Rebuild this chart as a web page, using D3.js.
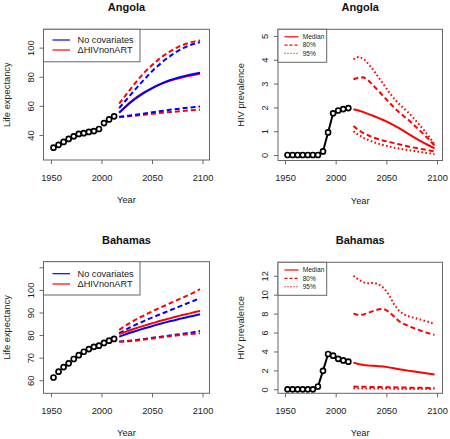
<!DOCTYPE html>
<html>
<head>
<meta charset="utf-8">
<script src="https://cdn.jsdelivr.net/npm/d3@7/dist/d3.min.js"></script>
<style>
  html, body { margin: 0; padding: 0; background: #fff; }
  svg { display: block; font-family: "Liberation Sans", Arial, sans-serif; }
</style>
</head>
<body>
<svg id="chart" width="450" height="439"></svg>
<script>
// ---------- DATA ----------
const obsYears = [1952.5, 1957.5, 1962.5, 1967.5, 1972.5, 1977.5, 1982.5, 1987.5, 1992.5, 1997.5, 2002.5, 2007.5, 2012.5];
const projYears = [2017.5, 2022.5, 2027.5, 2032.5, 2037.5, 2042.5, 2047.5, 2052.5, 2057.5, 2062.5, 2067.5, 2072.5, 2077.5, 2082.5, 2087.5, 2092.5, 2097.5];

// Angola life expectancy
const angolaLEObs = [31.3, 33.2, 35.2, 37.3, 39.1, 40.7, 41.2, 42.1, 42.7, 44.1, 48.2, 50.7, 52.8];
const angolaLENoCovMedian = [55.5, 58.6, 61.6, 64.4, 66.9, 69.1, 71.1, 73.0, 74.8, 76.3, 77.6, 78.7, 79.7, 80.6, 81.4, 82.1, 82.7];
const angolaLENoCovUpper  = [58.5, 62.5, 66.5, 70.5, 74.5, 78.3, 82.0, 85.5, 88.5, 91.5, 94.0, 96.5, 98.5, 100.2, 101.7, 102.8, 103.8];
const angolaLENoCovLower  = [52.5, 52.9, 53.3, 53.8, 54.3, 54.8, 55.3, 55.8, 56.3, 56.8, 57.3, 57.7, 58.1, 58.5, 58.9, 59.2, 59.5];
const angolaLEHivMedian   = [55.2, 58.6, 61.9, 64.8, 67.3, 69.4, 71.2, 73.0, 74.6, 76.0, 77.2, 78.3, 79.2, 80.0, 80.7, 81.4, 82.0];
const angolaLEHivUpper    = [61.5, 66.0, 70.5, 75.0, 79.0, 83.0, 86.5, 89.5, 92.5, 95.0, 97.3, 99.3, 101.0, 102.3, 103.5, 104.3, 105.0];
const angolaLEHivLower    = [52.2, 52.5, 52.8, 53.1, 53.5, 53.9, 54.3, 54.7, 55.1, 55.4, 55.7, 56.0, 56.3, 56.6, 56.9, 57.1, 57.3];

// Angola HIV prevalence
const angolaHIVObs = [0, 0, 0, 0, 0, 0, 0, 0.15, 0.95, 1.75, 1.87, 1.93, 1.97];
const angolaHIVMedian = [1.92, 1.87, 1.80, 1.72, 1.64, 1.55, 1.46, 1.36, 1.25, 1.13, 1.00, 0.87, 0.74, 0.62, 0.50, 0.39, 0.28];
const angolaHIVUp80   = [3.18, 3.25, 3.27, 3.12, 2.90, 2.68, 2.45, 2.22, 2.00, 1.80, 1.62, 1.45, 1.25, 1.05, 0.85, 0.63, 0.40];
const angolaHIVLo80   = [1.22, 1.05, 0.92, 0.82, 0.73, 0.66, 0.60, 0.55, 0.50, 0.45, 0.40, 0.35, 0.31, 0.27, 0.23, 0.19, 0.15];
const angolaHIVUp95   = [4.02, 4.12, 4.05, 3.82, 3.55, 3.25, 2.95, 2.65, 2.38, 2.15, 1.95, 1.75, 1.52, 1.28, 1.02, 0.75, 0.45];
const angolaHIVLo95   = [1.00, 0.85, 0.72, 0.62, 0.54, 0.47, 0.41, 0.36, 0.31, 0.27, 0.23, 0.20, 0.17, 0.14, 0.10, 0.07, 0.03];

// Bahamas life expectancy
const bahamasLEObs = [61.2, 63.8, 65.8, 67.5, 69.4, 71.1, 72.6, 73.8, 74.8, 75.3, 76.5, 77.5, 78.3];
const bahamasLENoCovMedian = [79.3, 80.1, 80.9, 81.6, 82.3, 83.0, 83.6, 84.3, 84.9, 85.5, 86.1, 86.6, 87.2, 87.7, 88.2, 88.7, 89.2];
const bahamasLENoCovUpper  = [80.8, 82.0, 83.2, 84.3, 85.3, 86.3, 87.3, 88.2, 89.1, 90.0, 90.9, 91.8, 92.7, 93.6, 94.5, 95.4, 96.3];
const bahamasLENoCovLower  = [77.1, 77.3, 77.5, 77.7, 78.0, 78.3, 78.6, 78.9, 79.2, 79.5, 79.8, 80.1, 80.4, 80.7, 81.0, 81.4, 81.8];
const bahamasLEHivMedian   = [80.4, 81.2, 82.0, 82.8, 83.5, 84.2, 84.9, 85.5, 86.2, 86.8, 87.4, 88.0, 88.6, 89.1, 89.6, 90.2, 90.7];
const bahamasLEHivUpper    = [82.3, 83.8, 85.2, 86.5, 87.7, 88.8, 89.9, 91.0, 92.0, 93.0, 94.0, 95.0, 96.0, 97.0, 98.0, 99.1, 100.3];
const bahamasLEHivLower    = [77.0, 77.1, 77.3, 77.5, 77.7, 78.0, 78.3, 78.6, 78.9, 79.2, 79.5, 79.7, 80.0, 80.2, 80.4, 80.6, 80.8];

// Bahamas HIV prevalence
const bahamasHIVObs = [0, 0, 0, 0, 0, 0, 0.3, 1.95, 3.73, 3.55, 3.22, 3.05, 2.92];
const bahamasHIVMedian = [2.82, 2.68, 2.58, 2.52, 2.48, 2.45, 2.40, 2.32, 2.22, 2.12, 2.03, 1.95, 1.88, 1.80, 1.72, 1.64, 1.56];
const bahamasHIVUp80   = [8.00, 7.85, 7.90, 8.10, 8.30, 8.45, 8.50, 8.20, 7.70, 7.20, 6.90, 6.65, 6.45, 6.25, 6.05, 5.90, 5.75];
const bahamasHIVLo80   = [0.30, 0.28, 0.27, 0.26, 0.25, 0.24, 0.23, 0.22, 0.21, 0.20, 0.19, 0.18, 0.17, 0.16, 0.16, 0.15, 0.15];
const bahamasHIVUp95   = [12.0, 11.6, 11.3, 11.2, 11.25, 11.1, 10.7, 10.0, 9.0, 8.3, 7.9, 7.7, 7.55, 7.4, 7.25, 7.1, 6.9];
const bahamasHIVLo95   = [0.12, 0.11, 0.10, 0.10, 0.09, 0.09, 0.08, 0.08, 0.07, 0.07, 0.07, 0.06, 0.06, 0.06, 0.05, 0.05, 0.05];

// Axis ticks / labels
const xTicks = [1950, 2000, 2050, 2100];
const angolaLETicks = [40, 60, 80, 100];
const angolaHIVTicks = [0, 1, 2, 3, 4, 5];
const bahamasLETicks = [60, 70, 80, 90, 100, 110];
const bahamasLETickLabels = [60, 70, 80, 90, 100];
const bahamasHIVTicks = [0, 2, 4, 6, 8, 10, 12];
const leLegendLabels = ["No covariates", "\u0394HIVnonART"];
const hivLegendLabels = ["Median", "80%", "95%"];

// ---------- DRAWING ----------
const svg = d3.select("#chart");
const BLUE = "#0000ff", RED = "#ff0000", BOXC = "#666", TXT = "#222";
const DASH = "5,3", DOT = "1.6,2.4";

function panel(o) {
  const x = d3.scaleLinear().domain(o.xlim).range([o.left, o.right]);
  const y = d3.scaleLinear().domain(o.ylim).range([o.bottom, o.top]);
  const g = svg.append("g");

  g.append("text").attr("x", (o.left + o.right) / 2).attr("y", o.top - 18)
    .attr("text-anchor", "middle").attr("font-size", 11).attr("font-weight", "bold")
    .attr("fill", "#111").text(o.title);

  const xa = g.append("g").attr("transform", `translate(0,${o.bottom})`)
    .call(d3.axisBottom(x).tickValues(xTicks).tickSize(4).tickFormat(d3.format("d")));
  xa.select(".domain").remove();
  xa.selectAll("line").attr("stroke", BOXC);
  xa.selectAll("text").attr("y", 20.5).attr("dy", 0).attr("font-size", 9.3).attr("fill", TXT);
  xa.attr("font-family", null);

  const ya = g.append("g").attr("transform", `translate(${o.left},0)`)
    .call(d3.axisLeft(y).tickValues(o.yTicks).tickSize(4)
      .tickFormat(d => o.yLabels.includes(d) ? d : ""));
  ya.select(".domain").remove();
  ya.selectAll("line").attr("stroke", BOXC);
  ya.selectAll("text").attr("x", 0).attr("dy", 0).attr("y", -9.7)
    .attr("transform", "rotate(-90)").attr("text-anchor", "middle")
    .attr("font-size", 9.3).attr("fill", TXT);
  ya.attr("font-family", null);

  g.append("text").attr("x", (o.left + o.right) / 2).attr("y", o.bottom + 43)
    .attr("text-anchor", "middle").attr("font-size", 9.3).attr("fill", TXT).text("Year");
  const cy = (o.top + o.bottom) / 2;
  g.append("text").attr("transform", `translate(${o.left - 33.8},${cy}) rotate(-90)`)
    .attr("text-anchor", "middle").attr("font-size", 9.3).attr("fill", TXT).text(o.ylab);

  const clipId = "clip" + Math.round(o.left) + "_" + Math.round(o.top);
  svg.append("clipPath").attr("id", clipId).append("rect")
    .attr("x", o.left).attr("y", o.top).attr("width", o.right - o.left).attr("height", o.bottom - o.top);
  const plot = g.append("g").attr("clip-path", `url(#${clipId})`);

  const line = d3.line().x(d => x(d[0])).y(d => y(d[1]));
  const pairs = (xs, ys) => xs.map((v, i) => [v, ys[i]]);

  o.series.forEach(s => {
    plot.append("path").datum(pairs(projYears, s.values))
      .attr("d", line).attr("fill", "none").attr("stroke", s.color)
      .attr("stroke-width", 2).attr("stroke-dasharray", s.dash || null)
      .attr("stroke-linecap", "butt");
  });

  if (o.obsLine) {
    plot.append("path").datum(pairs(obsYears, o.obs)).attr("d", line)
      .attr("fill", "none").attr("stroke", "#000").attr("stroke-width", 2);
  }
  plot.selectAll("circle.obs").data(pairs(obsYears, o.obs)).enter().append("circle")
    .attr("cx", d => x(d[0])).attr("cy", d => y(d[1])).attr("r", 2.5)
    .attr("fill", "#fff").attr("stroke", "#000").attr("stroke-width", 1.7);

  g.append("rect").attr("x", o.left).attr("y", o.top)
    .attr("width", o.right - o.left).attr("height", o.bottom - o.top)
    .attr("fill", "none").attr("stroke", BOXC).attr("stroke-width", 1);

  const L = o.legend;
  const lg = g.append("g");
  lg.append("rect").attr("x", o.left).attr("y", o.top).attr("width", L.w).attr("height", L.h)
    .attr("fill", "#fff").attr("stroke", BOXC).attr("stroke-width", 1);
  L.items.forEach((it, i) => {
    const yy = o.top + L.y0 + i * L.dy;
    lg.append("line").attr("x1", o.left + L.lx1).attr("x2", o.left + L.lx2)
      .attr("y1", yy).attr("y2", yy).attr("stroke", it.color)
      .attr("stroke-width", L.lw).attr("stroke-dasharray", it.dash || null);
    lg.append("text").attr("x", o.left + L.tx).attr("y", yy).attr("dy", "0.35em")
      .attr("font-size", L.fs).attr("fill", TXT).text(it.label);
  });
}

panel({
  title: "Angola", ylab: "Life expectancy",
  left: 43.5, right: 209.5, top: 29.3, bottom: 160,
  xlim: [1942.6, 2106.9], ylim: [22.8, 112.6],
  yTicks: angolaLETicks, yLabels: angolaLETicks,
  obs: angolaLEObs, obsLine: false,
  series: [
    { values: angolaLEHivUpper, color: RED, dash: DASH },
    { values: angolaLEHivLower, color: RED, dash: DASH },
    { values: angolaLENoCovUpper, color: BLUE, dash: DASH },
    { values: angolaLENoCovLower, color: BLUE, dash: DASH },
    { values: angolaLEHivMedian, color: RED },
    { values: angolaLENoCovMedian, color: BLUE }
  ],
  legend: { w: 96.5, h: 32.5, y0: 10.7, dy: 10, lx1: 9, lx2: 26.5, tx: 34, fs: 9.2, lw: 1.2,
    items: [{ color: BLUE, label: leLegendLabels[0] }, { color: RED, label: leLegendLabels[1] }] }
});

panel({
  title: "Angola", ylab: "HIV prevalence",
  left: 278, right: 442.5, top: 29.3, bottom: 160.5,
  xlim: [1943.1, 2105.4], ylim: [-0.23, 5.28],
  yTicks: angolaHIVTicks, yLabels: angolaHIVTicks,
  obs: angolaHIVObs, obsLine: true,
  series: [
    { values: angolaHIVMedian, color: RED },
    { values: angolaHIVUp80, color: RED, dash: DASH },
    { values: angolaHIVLo80, color: RED, dash: DASH },
    { values: angolaHIVUp95, color: RED, dash: DOT },
    { values: angolaHIVLo95, color: RED, dash: DOT }
  ],
  legend: { w: 48.7, h: 33, y0: 7.5, dy: 8.3, lx1: 6.5, lx2: 20.5, tx: 24.7, fs: 6.6, lw: 1.2,
    items: [{ color: RED, label: hivLegendLabels[0] }, { color: RED, label: hivLegendLabels[1], dash: "3,2" },
            { color: RED, label: hivLegendLabels[2], dash: "1,2" }] }
});

panel({
  title: "Bahamas", ylab: "Life expectancy",
  left: 43.5, right: 209.5, top: 261.7, bottom: 393.3,
  xlim: [1942.6, 2106.9], ylim: [54.2, 112.5],
  yTicks: bahamasLETicks, yLabels: bahamasLETickLabels,
  obs: bahamasLEObs, obsLine: false,
  series: [
    { values: bahamasLEHivUpper, color: RED, dash: DASH },
    { values: bahamasLENoCovUpper, color: BLUE, dash: DASH },
    { values: bahamasLENoCovLower, color: BLUE, dash: DASH },
    { values: bahamasLEHivLower, color: RED, dash: DASH },
    { values: bahamasLENoCovMedian, color: BLUE },
    { values: bahamasLEHivMedian, color: RED }
  ],
  legend: { w: 96.5, h: 33.3, y0: 12, dy: 10.3, lx1: 9, lx2: 26.5, tx: 34, fs: 9.2, lw: 1.2,
    items: [{ color: BLUE, label: leLegendLabels[0] }, { color: RED, label: leLegendLabels[1] }] }
});

panel({
  title: "Bahamas", ylab: "HIV prevalence",
  left: 278, right: 442.5, top: 262.3, bottom: 393.3,
  xlim: [1943.1, 2105.4], ylim: [-0.42, 13.42],
  yTicks: bahamasHIVTicks, yLabels: bahamasHIVTicks,
  obs: bahamasHIVObs, obsLine: true,
  series: [
    { values: bahamasHIVMedian, color: RED },
    { values: bahamasHIVUp80, color: RED, dash: DASH },
    { values: bahamasHIVLo80, color: RED, dash: DASH },
    { values: bahamasHIVUp95, color: RED, dash: DOT },
    { values: bahamasHIVLo95, color: RED, dash: DOT }
  ],
  legend: { w: 48.7, h: 33, y0: 7.7, dy: 8.3, lx1: 6.5, lx2: 20.5, tx: 24.7, fs: 6.6, lw: 1.2,
    items: [{ color: RED, label: hivLegendLabels[0] }, { color: RED, label: hivLegendLabels[1], dash: "3,2" },
            { color: RED, label: hivLegendLabels[2], dash: "1,2" }] }
});
</script>
</body>
</html>
